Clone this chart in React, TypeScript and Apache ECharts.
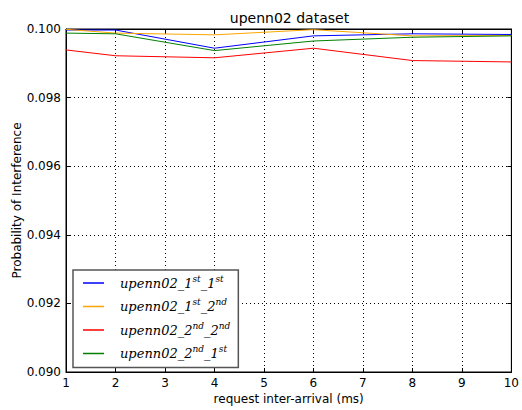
import React, { useEffect, useRef } from "react";
import * as echarts from "echarts";

const xValues = [1, 2, 4, 6, 8, 10];
const seriesNames = ["upenn02_1st_1st", "upenn02_1st_2nd", "upenn02_2nd_2nd", "upenn02_2nd_1st"];
const blueValues = [0.09997, 0.09997, 0.09944, 0.0998, 0.09986, 0.09984];
const orangeValues = [0.09999, 0.09988, 0.09983, 0.09998, 0.0998, 0.09981];
const redValues = [0.09939, 0.09922, 0.09916, 0.09944, 0.09908, 0.09904];
const greenValues = [0.09988, 0.09986, 0.09937, 0.09965, 0.09976, 0.0998];
const colors = ["#0000ff", "#ffa500", "#ff0000", "#008000"];
const legendRich: Record<string, string> = {
  "upenn02_1st_1st": "{a|upenn02_1}{s|st}{a|_1}{s|st}",
  "upenn02_1st_2nd": "{a|upenn02_1}{s|st}{a|_2}{s|nd}",
  "upenn02_2nd_2nd": "{a|upenn02_2}{s|nd}{a|_2}{s|nd}",
  "upenn02_2nd_1st": "{a|upenn02_2}{s|nd}{a|_1}{s|st}",
};

export default function App() {
  const ref = useRef<HTMLDivElement>(null);
  useEffect(() => {
    if (!ref.current) return;
    const chart = echarts.init(ref.current, null, { renderer: "svg" });
    const allValues = [blueValues, orangeValues, redValues, greenValues];
    const font = "DejaVu Sans";
    const tickStyle = { show: true, inside: true, length: 4, lineStyle: { color: "#000" } };
    chart.setOption({
      animation: false,
      backgroundColor: "#fff",
      textStyle: { fontFamily: font },
      graphic: [
        {
          type: "text",
          x: 289.5,
          y: 18,
          style: { text: "upenn02 dataset", font: `14px ${font}`, fill: "#000", textAlign: "center", textVerticalAlign: "middle" },
        },
      ],
      grid: { left: 66, right: 9, top: 29, bottom: 35, show: true, borderColor: "#000", borderWidth: 1, backgroundColor: "transparent" },
      xAxis: [
        {
          type: "value",
          min: 1,
          max: 10,
          interval: 1,
          name: "request inter-arrival (ms)",
          nameLocation: "middle",
          nameGap: 21,
          nameMoveOverlap: false,
          nameTextStyle: { fontSize: 12, color: "#000", fontFamily: font },
          axisLine: { show: true, lineStyle: { color: "#000" } },
          axisTick: tickStyle,
          axisLabel: { color: "#000", fontSize: 12, margin: 5, fontFamily: font },
          splitLine: { show: true, lineStyle: { color: "#000", type: [1, 3], width: 1 } },
        },
        {
          type: "value",
          min: 1,
          max: 10,
          interval: 1,
          position: "top",
          axisLine: { show: true, lineStyle: { color: "#000" } },
          axisTick: tickStyle,
          axisLabel: { show: false },
          splitLine: { show: false },
        },
      ],
      yAxis: [
        {
          type: "value",
          min: 0.09,
          max: 0.1,
          interval: 0.002,
          name: "Probability of Interference",
          nameLocation: "middle",
          nameGap: 43,
          nameMoveOverlap: false,
          nameTextStyle: { fontSize: 12, color: "#000", fontFamily: font },
          axisLine: { show: true, lineStyle: { color: "#000" } },
          axisTick: tickStyle,
          axisLabel: { color: "#000", fontSize: 12, margin: 5, fontFamily: font, formatter: (v: number) => v.toFixed(3) },
          splitLine: { show: true, lineStyle: { color: "#000", type: [1, 3], width: 1 } },
        },
        {
          type: "value",
          min: 0.09,
          max: 0.1,
          interval: 0.002,
          position: "right",
          axisLine: { show: true, lineStyle: { color: "#000" } },
          axisTick: tickStyle,
          axisLabel: { show: false },
          splitLine: { show: false },
        },
      ],
      legend: {
        orient: "vertical",
        left: 73,
        top: 270,
        padding: [4, 8, 5, 10],
        itemWidth: 21,
        itemHeight: 18,
        itemGap: 5.5,
        icon: "path://M0,0 L0.01,0 M0,8.25 L21,8.25 L21,9.75 L0,9.75 Z M0,18 L0.01,18",
        itemStyle: { borderWidth: 0 },
        backgroundColor: "#fff",
        borderColor: "#555",
        borderWidth: 1.5,
        borderRadius: 0,
        data: seriesNames,
        formatter: (name: string) => legendRich[name],
        textStyle: {
          padding: [0, 0, 0, 11],
          rich: {
            a: { fontFamily: "DejaVu Serif", fontStyle: "italic", fontSize: 13, color: "#000", lineHeight: 18 },
            s: { fontFamily: "DejaVu Serif", fontStyle: "italic", fontSize: 9, color: "#000", lineHeight: 8, verticalAlign: "top" },
          },
        },
      },
      series: seriesNames.map((name, i) => ({
        name,
        type: "line",
        symbol: "none",
        showSymbol: false,
        xAxisIndex: 0,
        yAxisIndex: 0,
        lineStyle: { color: colors[i], width: 1 },
        itemStyle: { color: colors[i] },
        data: xValues.map((x, j) => [x, allValues[i][j]]),
      })),
    });
    return () => chart.dispose();
  }, []);
  return <div ref={ref} style={{ width: 522, height: 410, position: "absolute", left: 0, top: 0 }} />;
}
